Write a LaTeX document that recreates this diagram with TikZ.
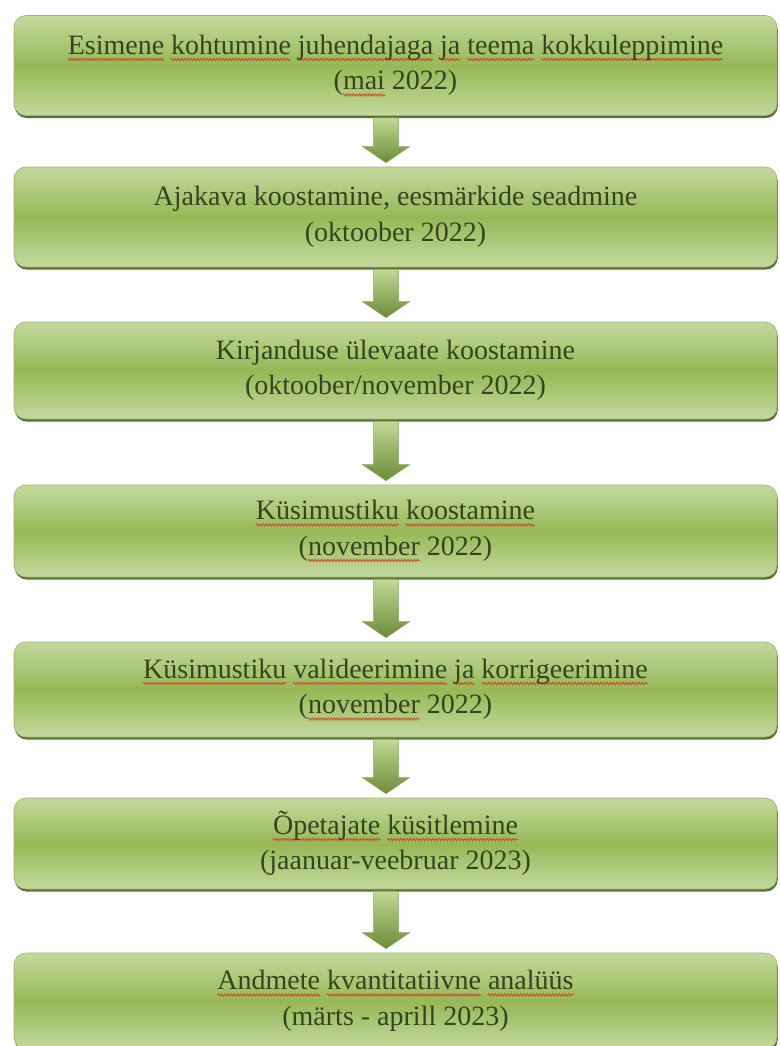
\documentclass[tikz,border=0pt]{standalone}
\usepackage{fontspec}
\setmainfont{Liberation Serif}
\usetikzlibrary{calc,shadows,decorations.pathmorphing}
\definecolor{boxlight}{HTML}{C4D99E}
\definecolor{boxmid}{HTML}{97B856}
\definecolor{boxedge}{HTML}{9DB571}
\definecolor{boxshadow}{HTML}{55692E}
\definecolor{txtcol}{HTML}{36431F}
\definecolor{wavered}{HTML}{C8502A}
\definecolor{arrlight}{HTML}{C2D897}
\definecolor{arrdark}{HTML}{6C8C38}
\definecolor{arredge}{HTML}{8DA85E}
\newlength\wavylen
\newcommand\wavy[1]{\settowidth\wavylen{#1}\leavevmode\rlap{\tikz[baseline=0pt,x=1pt,y=1pt,sharp corners]{\useasboundingbox (0,0);
  \draw[overlay,sharp corners,wavered,line width=0.9pt,decorate,decoration={zigzag,amplitude=1.1pt,segment length=3.2pt}] (0,-5) -- (\wavylen,-5);}}#1}
\tikzset{
  stagebox/.style={rectangle, rounded corners=12pt, minimum width=763pt,
    draw=boxedge, line width=0.6pt,
    top color=boxlight, bottom color=boxlight, middle color=boxmid,
    drop shadow={shadow xshift=0.8pt, shadow yshift=-2.6pt, fill=boxshadow, opacity=0.95},
    align=center, inner sep=0pt,
    font=\fontsize{28}{35.5}\selectfont\color{txtcol}},
  flowarrow/.style={draw=arredge, line width=0.5pt, top color=arrlight, bottom color=arrdark}
}
\newcommand\stagearrow[2]{%
  \path[flowarrow] let \p1=(#1.south), \p2=(#2.north), \n1={\x1-9.5pt} in
    (\n1-12.5pt,\y1-2pt) -- (\n1-12.5pt,\y2+20pt) -- (\n1-23.5pt,\y2+20pt) --
    (\n1,\y2+4pt) -- (\n1+23.5pt,\y2+20pt) -- (\n1+12.5pt,\y2+20pt) --
    (\n1+12.5pt,\y1-2pt) -- cycle;}
\begin{document}
\begin{tikzpicture}[x=1pt,y=-1pt]
\useasboundingbox (0,0) rectangle (779,1046);
\fill[white] (0,0) rectangle (779,1046);
\node[stagebox, minimum height=100pt] (b1) at (395.5,65.5)
  {\wavy{Esimene} \wavy{kohtumine} \wavy{juhendajaga} \wavy{ja} \wavy{teema} \wavy{kokkuleppimine}\\(\wavy{mai} 2022)};
\node[stagebox, minimum height=100pt] (b2) at (395.5,217)
  {Ajakava koostamine, eesmärkide seadmine\\(oktoober 2022)};
\node[stagebox, minimum height=97pt] (b3) at (395.5,370.5)
  {Kirjanduse ülevaate koostamine\\(oktoober/november 2022)};
\node[stagebox, minimum height=92pt] (b4) at (395.5,531)
  {\wavy{Küsimustiku} \wavy{koostamine}\\(\wavy{november} 2022)};
\node[stagebox, minimum height=95pt] (b5) at (395.5,689.5)
  {\wavy{Küsimustiku} \wavy{valideerimine} \wavy{ja} \wavy{korrigeerimine}\\(\wavy{november} 2022)};
\node[stagebox, minimum height=91pt] (b6) at (395.5,843.5)
  {\wavy{Õpetajate} \wavy{küsitlemine}\\(jaanuar-veebruar 2023)};
\node[stagebox, minimum height=96pt] (b7) at (395.5,1001)
  {\wavy{Andmete} \wavy{kvantitatiivne} \wavy{analüüs}\\(märts - aprill 2023)};
\stagearrow{b1}{b2}
\stagearrow{b2}{b3}
\stagearrow{b3}{b4}
\stagearrow{b4}{b5}
\stagearrow{b5}{b6}
\stagearrow{b6}{b7}
\end{tikzpicture}
\end{document}
